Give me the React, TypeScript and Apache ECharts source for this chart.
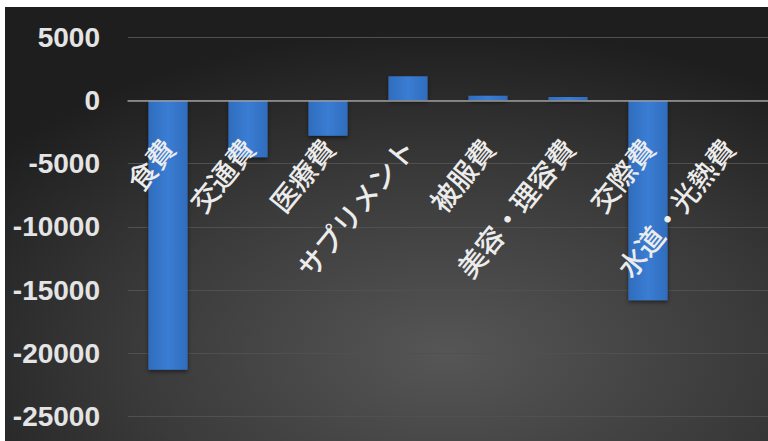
import React, { useEffect, useRef } from "react";
import * as echarts from "echarts";

const categories = ["食費", "交通費", "医療費", "サプリメント", "被服費", "美容・理容費", "交際費", "水道・光熱費"];
const values = [-21300, -4500, -2800, 1900, 350, 260, -15800, 0];
const yMin = -25000;
const yMax = 5000;
const yInterval = 5000;

const gridTop = 37;
const gridBottom = 24.3;
const chartH = 441;

export default function App() {
  const ref = useRef<HTMLDivElement>(null);
  useEffect(() => {
    document.body.style.margin = "0";
    const chart = echarts.init(ref.current!, null, { renderer: "svg" });
    const plotH = chartH - gridTop - gridBottom;
    const zeroY = gridTop + (plotH * (yMax - 0)) / (yMax - yMin);
    const bottomY = chartH - gridBottom;
    chart.setOption({
      animation: false,
      backgroundColor: "#ffffff",
      graphic: [
        {
          type: "rect",
          z: -10,
          silent: true,
          shape: { x: 5, y: 7, width: 763, height: 434 },
          style: {
            fill: new echarts.graphic.RadialGradient(0.58, 0.8, 0.75, [
              { offset: 0, color: "#565656" },
              { offset: 0.55, color: "#3a3a3a" },
              { offset: 1, color: "#1e1e1e" },
            ]),
          },
        },
      ],
      grid: { left: 128, right: 0, top: gridTop, bottom: gridBottom, containLabel: false, outerBoundsMode: "none" },
      xAxis: {
        type: "category",
        data: categories,
        position: "bottom",
        offset: zeroY - bottomY,
        z: 10,
        axisLine: { onZero: false, lineStyle: { color: "#9a9a9a", width: 1.5 } },
        axisTick: { show: false },
        axisLabel: {
          rotate: 51,
          interval: 0,
          margin: 42,
          color: "#ececec",
          fontWeight: 500,
          fontSize: 28,
          fontFamily: "Noto Sans CJK JP",
        },
      },
      yAxis: {
        type: "value",
        min: yMin,
        max: yMax,
        interval: yInterval,
        axisLine: { show: false },
        axisTick: { show: false },
        splitLine: { lineStyle: { color: "#505050", width: 1 } },
        axisLabel: {
          margin: 28,
          color: "#e4e4e4",
          fontWeight: "bold",
          fontSize: 28,
          fontFamily: "Liberation Sans",
          formatter: (v: number) => String(v),
        },
      },
      series: [
        {
          type: "bar",
          data: values,
          barWidth: "49%",
          z: 1,
          itemStyle: {
            color: new echarts.graphic.LinearGradient(0, 0, 1, 0, [
              { offset: 0, color: "#306cbc" },
              { offset: 0.5, color: "#3a7dd4" },
              { offset: 1, color: "#306cbc" },
            ]),
            shadowColor: "rgba(0,0,0,0.5)",
            shadowBlur: 4,
            shadowOffsetY: 2,
          },
        },
      ],
    });
    return () => chart.dispose();
  }, []);
  return <div ref={ref} style={{ width: 768, height: 441 }} />;
}
